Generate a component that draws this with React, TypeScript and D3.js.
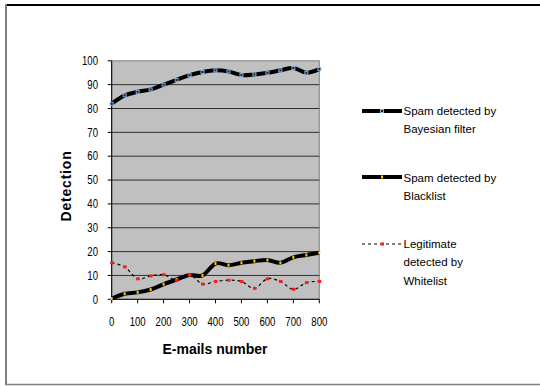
import React from "react";
import * as d3 from "d3";

// E-mails processed (x) and detection rates (%) per filter
const emails = [0, 50, 100, 150, 200, 250, 300, 350, 400, 450, 500, 550, 600, 650, 700, 750, 800];
const bayesian = [82, 85.5, 87, 88, 90, 92, 94, 95.3, 96, 95.5, 94, 94.3, 95, 96, 97, 95, 96.5];
const blacklist = [0.3, 2.3, 2.9, 4.1, 6.3, 8.3, 10.2, 10, 15, 14.3, 15.3, 16, 16.5, 15.3, 17.6, 18.6, 19.5];
const whitelist = [15.3, 13.6, 8.6, 9.8, 10.3, 8, 10.3, 6.4, 7.5, 8, 7.5, 4.6, 8.6, 7.5, 4.2, 7, 7.5];

const xTicks = [0, 100, 200, 300, 400, 500, 600, 700, 800];
const yTicks = [0, 10, 20, 30, 40, 50, 60, 70, 80, 90, 100];

const legendItems = [
  { lines: ["Spam detected by", "Bayesian filter"], kind: "bayes" },
  { lines: ["Spam detected by", "Blacklist"], kind: "black" },
  { lines: ["Legitimate", "detected by", "Whitelist"], kind: "white" },
];

const W = 540;
const H = 386;
const plot = { left: 111.7, right: 319.3, top: 60.8, bottom: 299.3 };

const sans = "'Liberation Sans', Arial, sans-serif";

// condensed tick label: regular sans squeezed horizontally around its anchor
function TickText(props: { x: number; y: number; anchor: string; children: React.ReactNode }) {
  return (
    <text
      transform={`translate(${props.x},${props.y}) scale(0.8,1)`}
      textAnchor={props.anchor}
      fontFamily={sans}
      fontSize={12}
      fill="#000"
    >
      {props.children}
    </text>
  );
}

export default function App() {
  const x = d3.scaleLinear().domain([0, 800]).range([plot.left, plot.right]);
  const y = d3.scaleLinear().domain([0, 100]).range([plot.bottom, plot.top]);

  const line = (vals: number[]) =>
    d3
      .line<number>()
      .x((_, i) => x(emails[i]))
      .y((v) => y(v))
      .curve(d3.curveCardinal.tension(0))(vals) || "";

  const legendLineY = [111, 177, 244];
  const legendBase = [114.5, 181.5, 247.5];
  const lh = 18.5;

  return (
    <svg
      width={W}
      height={H}
      style={{ position: "absolute", left: 0, top: 0, background: "#fff" }}
    >
      {/* chart frame */}
      <line x1={6} x2={W} y1={5} y2={5} stroke="#000" strokeWidth={2} />
      <line x1={6} x2={6} y1={4} y2={385} stroke="#808080" strokeWidth={2} />
      <line x1={6} x2={W} y1={384.5} y2={384.5} stroke="#808080" strokeWidth={1.5} />

      {/* plot area */}
      <rect
        x={plot.left}
        y={plot.top}
        width={plot.right - plot.left}
        height={plot.bottom - plot.top}
        fill="#c0c0c0"
        stroke="#808080"
        strokeWidth={1}
      />
      {yTicks
        .filter((t) => t > 0 && t < 100)
        .map((t) => (
          <line
            key={"g" + t}
            x1={plot.left}
            x2={plot.right}
            y1={y(t)}
            y2={y(t)}
            stroke="#303030"
            strokeWidth={1}
          />
        ))}

      {/* axes */}
      <line x1={plot.left} x2={plot.left} y1={plot.top} y2={plot.bottom} stroke="#000" />
      <line x1={plot.left} x2={plot.right} y1={plot.bottom} y2={plot.bottom} stroke="#000" />
      {yTicks.map((t) => (
        <g key={"y" + t}>
          <line x1={plot.left - 4} x2={plot.left} y1={y(t)} y2={y(t)} stroke="#000" />
          <TickText x={98} y={y(t) + 4.2} anchor="end">
            {t}
          </TickText>
        </g>
      ))}
      {xTicks.map((t) => (
        <g key={"x" + t}>
          <line x1={x(t)} x2={x(t)} y1={plot.bottom} y2={plot.bottom + 4} stroke="#000" />
          <TickText x={x(t)} y={326} anchor="middle">
            {t}
          </TickText>
        </g>
      ))}

      {/* axis titles */}
      <text
        x={215}
        y={354}
        textAnchor="middle"
        fontFamily={sans}
        fontWeight="bold"
        fontSize={14}
      >
        E-mails number
      </text>
      <text
        transform="translate(71,186) rotate(-90)"
        textAnchor="middle"
        fontFamily={sans}
        fontWeight="bold"
        fontSize={14}
        letterSpacing={0.8}
      >
        Detection
      </text>

      {/* series */}
      <path d={line(whitelist)} fill="none" stroke="#000" strokeWidth={1.2} strokeDasharray="3,3" />
      <path d={line(blacklist)} fill="none" stroke="#000" strokeWidth={4} />
      <path d={line(bayesian)} fill="none" stroke="#000" strokeWidth={4} />

      {bayesian.map((v, i) => (
        <rect
          key={"bm" + i}
          x={x(emails[i]) - 1.5}
          y={y(v) - 1.5}
          width={3}
          height={3}
          fill="#1a1a1a"
          stroke="#7fb2e6"
          strokeWidth={1}
        />
      ))}
      {blacklist.map((v, i) => (
        <rect
          key={"km" + i}
          x={x(emails[i]) - 1}
          y={y(v) - 1.5}
          width={2}
          height={3}
          fill="#ffcc00"
        />
      ))}
      {whitelist.map((v, i) => (
        <rect
          key={"wm" + i}
          x={x(emails[i]) - 1.5}
          y={y(v) - 1.5}
          width={3.5}
          height={3}
          fill="#ff1a1a"
        />
      ))}

      {/* legend */}
      {legendItems.map((item, k) => {
        const ly = legendLineY[k];
        return (
          <g key={"lg" + k}>
            {item.kind === "white" ? (
              <line x1={362} x2={402} y1={ly} y2={ly} stroke="#000" strokeWidth={1.2} strokeDasharray="3,3" />
            ) : (
              <line x1={362} x2={402} y1={ly} y2={ly} stroke="#000" strokeWidth={4} />
            )}
            {item.kind === "bayes" && (
              <rect x={380.5} y={ly - 1.5} width={3} height={3} fill="#1a1a1a" stroke="#7fb2e6" strokeWidth={1} />
            )}
            {item.kind === "black" && (
              <rect x={381} y={ly - 1.5} width={2} height={3} fill="#ffcc00" />
            )}
            {item.kind === "white" && (
              <rect x={380.5} y={ly - 1.5} width={3.5} height={3} fill="#ff1a1a" />
            )}
            {item.lines.map((s, j) => (
              <text
                key={j}
                x={403.5}
                y={legendBase[k] + j * lh}
                fontFamily={sans}
                fontSize={11.5}
                fill="#000"
              >
                {s}
              </text>
            ))}
          </g>
        );
      })}
    </svg>
  );
}
